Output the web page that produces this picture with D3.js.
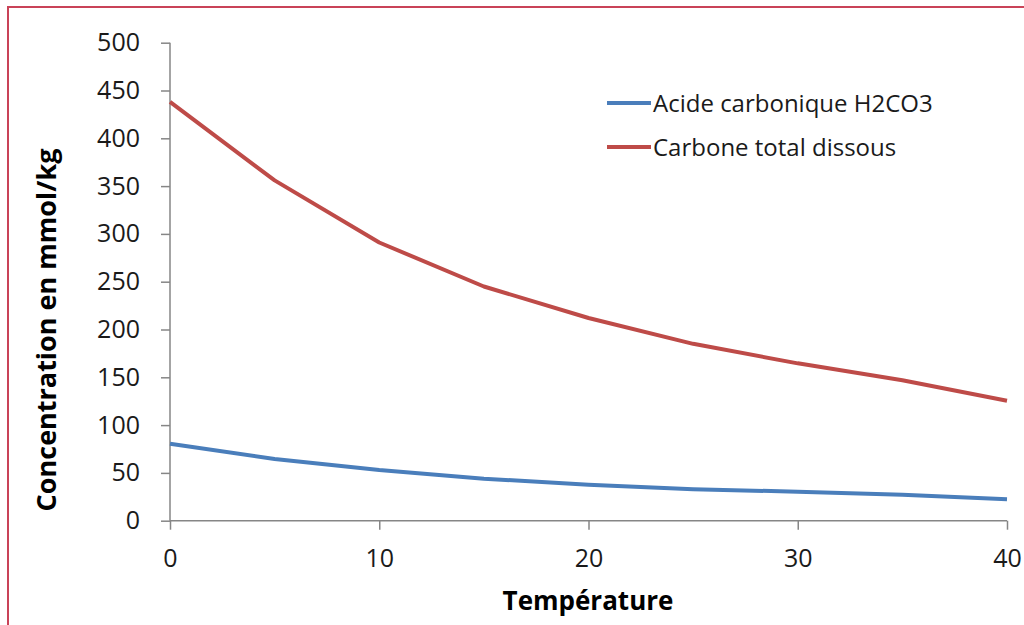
<!DOCTYPE html>
<html>
<head>
<meta charset="utf-8">
<script src="https://cdn.jsdelivr.net/npm/d3@7"></script>
<style>
  body { margin: 0; background: #fff; }
  .tick text { font-family: "Open Sans", sans-serif; font-size: 25px; fill: #1a1a1a; }
  .axis path, .axis line { stroke: #868686; stroke-width: 1.5px; }
</style>
</head>
<body>
<div id="chart"></div>
<script>
// data
var temperatures = [0, 5, 10, 15, 20, 25, 30, 35, 40];
var acideH2CO3 = [80.5, 64.5, 53, 44, 37.5, 33, 30.3, 27.2, 22.4];
var carboneTotal = [438, 356, 291, 245, 212, 185, 164.6, 147, 125.5];
var xTicks = [0, 10, 20, 30, 40];
var yTicks = [0, 50, 100, 150, 200, 250, 300, 350, 400, 450, 500];
var seriesNames = ["Acide carbonique H2CO3", "Carbone total dissous"];
var seriesColors = ["#4a7ebb", "#be4b48"];

var svgWidth = 1024;
var svgHeight = 625;

var svg = d3.select("#chart")
    .append("svg")
    .attr("width", svgWidth)
    .attr("height", svgHeight);

// frame around the chart area (runs off the right and bottom edges)
svg.append("rect")
    .attr("x", 8)
    .attr("y", 7)
    .attr("width", 1030)
    .attr("height", 640)
    .attr("fill", "none")
    .attr("stroke", "#c94358")
    .attr("stroke-width", 2);

var x = d3.scaleLinear()
    .domain([0, 40])
    .range([170, 1007]);

var y = d3.scaleLinear()
    .domain([0, 500])
    .range([520.7, 42.7]);

// axes
svg.append("g")
    .attr("class", "axis")
    .attr("transform", "translate(0, " + y(0) + ")")
    .call(d3.axisBottom(x).tickValues(xTicks).tickSize(9).tickPadding(20).tickSizeOuter(0))
    .call(g => g.select(".domain").attr("d", "M" + x(0) + ",0H" + x(40)));

svg.append("g")
    .attr("class", "axis")
    .attr("transform", "translate(" + x(0) + ", 0)")
    .call(d3.axisLeft(y).tickValues(yTicks).tickSize(9).tickPadding(21).tickSizeOuter(0))
    .call(g => g.select(".domain").attr("d", "M0," + y(500) + "V" + y(0)));

// lines
var line = d3.line()
    .x((d, i) => x(temperatures[i]))
    .y(d => y(d));

[acideH2CO3, carboneTotal].forEach(function (values, i) {
    svg.append("path")
        .datum(values)
        .attr("d", line)
        .attr("fill", "none")
        .attr("stroke", seriesColors[i])
        .attr("stroke-width", 4)
        .attr("stroke-linejoin", "round");
});

// legend
var legend = svg.append("g");
seriesNames.forEach(function (name, i) {
    var ly = 103 + i * 44;
    legend.append("line")
        .attr("x1", 607).attr("x2", 651)
        .attr("y1", ly).attr("y2", ly)
        .attr("stroke", seriesColors[i])
        .attr("stroke-width", 4);
    legend.append("text")
        .attr("x", 653)
        .attr("y", ly + 9)
        .style("font-family", "'Open Sans', sans-serif")
        .style("font-size", "24px")
        .attr("fill", "#1a1a1a")
        .text(name);
});

// axis titles
svg.append("text")
    .attr("x", 588)
    .attr("y", 610)
    .style("text-anchor", "middle")
    .style("font-family", "'Open Sans', sans-serif")
    .style("font-weight", "bold")
    .style("font-size", "26px")
    .attr("fill", "#000")
    .text("Température");

svg.append("text")
    .attr("transform", "translate(56, 330) rotate(-90)")
    .style("text-anchor", "middle")
    .style("font-family", "'Open Sans', sans-serif")
    .style("font-weight", "bold")
    .style("font-size", "27px")
    .attr("fill", "#000")
    .text("Concentration en mmol/kg");
</script>
</body>
</html>
